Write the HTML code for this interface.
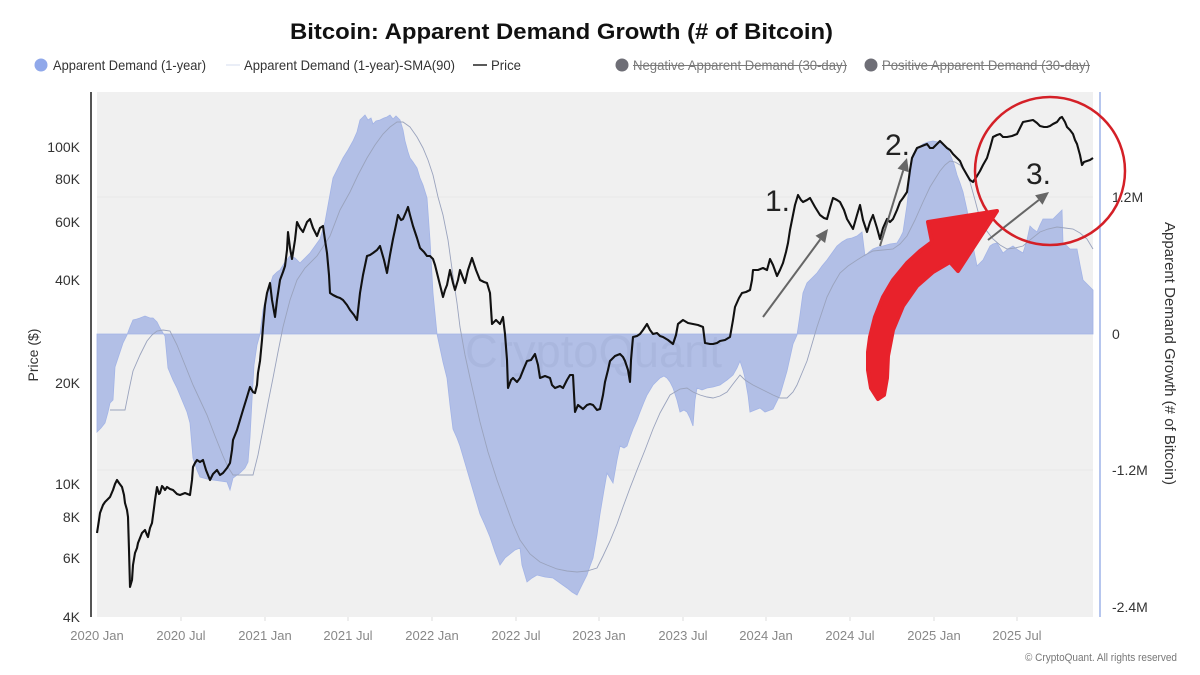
<!DOCTYPE html>
<html><head><meta charset="utf-8"><style>
html,body{margin:0;padding:0;background:#fff;}
svg{display:block;font-family:"Liberation Sans",Arial,sans-serif;}
</style></head><body>
<svg width="1200" height="675" viewBox="0 0 1200 675" xmlns="http://www.w3.org/2000/svg">
<rect width="1200" height="675" fill="#fff"/>
<!-- Title -->
<text x="290" y="39" font-size="22" font-weight="bold" fill="#111" textLength="543" lengthAdjust="spacingAndGlyphs">Bitcoin: Apparent Demand Growth (# of Bitcoin)</text>
<!-- Legend -->
<circle cx="41" cy="65" r="6.5" fill="#90a8ea"/>
<text x="53" y="70" font-size="14" fill="#333" textLength="153" lengthAdjust="spacingAndGlyphs">Apparent Demand (1-year)</text>
<line x1="226" y1="65" x2="240" y2="65" stroke="#d5dcef" stroke-width="1"/>
<text x="244" y="70" font-size="14" fill="#333" textLength="211" lengthAdjust="spacingAndGlyphs">Apparent Demand (1-year)-SMA(90)</text>
<line x1="473" y1="65" x2="487" y2="65" stroke="#222" stroke-width="1.5"/>
<text x="491" y="70" font-size="14" fill="#333" textLength="30" lengthAdjust="spacingAndGlyphs">Price</text>
<circle cx="622" cy="65" r="6.5" fill="#6e6e76"/>
<text x="633" y="70" font-size="14" fill="#7a7a7a" textLength="214" lengthAdjust="spacingAndGlyphs">Negative Apparent Demand (30-day)</text>
<line x1="633" y1="65.5" x2="847" y2="65.5" stroke="#7a7a7a" stroke-width="1"/>
<circle cx="871" cy="65" r="6.5" fill="#6e6e76"/>
<text x="882" y="70" font-size="14" fill="#7a7a7a" textLength="208" lengthAdjust="spacingAndGlyphs">Positive Apparent Demand (30-day)</text>
<line x1="882" y1="65.5" x2="1090" y2="65.5" stroke="#7a7a7a" stroke-width="1"/>

<!-- Plot background -->
<rect x="97" y="92" width="996" height="525" fill="#f0f0f0"/>
<line x1="97" y1="197" x2="1093" y2="197" stroke="#e9e9e9" stroke-width="1"/>
<line x1="97" y1="470" x2="1093" y2="470" stroke="#e9e9e9" stroke-width="1"/>

<!-- Demand fill -->
<polygon fill="#b2bfe6" stroke="#a3b4e6" stroke-width="0.8" points="97,334 97,432 101,428 105,423 108,412 110,403 113,400 115,367 119,355 123,343 127,335 130,327 133,320 137,319 140,318 145,316 150,318 153,318 157,322 160,328 163,333 165,336 168,368 173,380 177,388 182,400 187,412 190,423 193,458 197,470 200,477 207,479 213,480 220,481 227,482 230,490 233,478 237,475 240,473 245,468 248,462 250,437 252,400 254,365 257,345 260,334 263,310 267,293 270,285 273,276 277,272 280,270 285,262 290,256 295,258 300,263 305,258 310,253 315,246 320,239 325,222 329,200 333,178 338,168 343,158 348,150 353,141 357,132 360,120 363,117 365,115 368,120 371,118 373,124 376,121 380,120 384,118 387,117 390,115 393,119 396,116 400,120 403,130 405,141 408,152 410,158 413,162 417,168 420,178 423,185 427,198 430,240 433,293 437,334 440,348 443,362 447,378 450,405 453,429 457,438 460,446 465,463 470,480 475,497 480,514 485,525 490,537 495,552 500,565 505,558 510,554 515,550 520,548 522,565 527,582 532,578 537,575 545,577 553,578 560,583 567,588 572,592 577,595 582,585 587,575 590,566 593,558 597,535 600,514 604,490 607,473 610,478 613,483 617,460 620,446 624,448 627,446 630,437 633,429 637,420 640,412 644,402 647,395 650,390 653,385 657,381 660,378 664,376 667,378 670,382 673,388 677,400 680,412 684,410 687,412 690,418 693,426 695,400 697,388 702,390 707,388 713,387 720,385 727,380 733,375 737,368 740,361 743,370 745,378 748,395 750,412 755,410 760,408 765,412 773,409 780,395 787,371 793,344 797,335 800,315 803,293 807,283 812,278 817,273 822,266 827,260 832,253 837,246 842,242 847,239 852,238 857,236 862,232 865,256 869,252 873,249 878,247 883,246 890,244 897,243 900,238 903,232 907,205 910,178 913,154 918,148 923,144 928,142 933,141 938,142 943,144 947,148 950,154 954,164 957,175 960,183 963,192 967,210 970,226 973,246 977,266 980,263 983,260 987,252 990,246 993,244 997,243 1000,248 1003,253 1008,249 1013,246 1018,250 1023,253 1027,240 1030,226 1033,229 1037,232 1040,225 1043,219 1048,219 1053,219 1058,214 1062,210 1063,243 1067,246 1070,249 1073,249 1077,249 1080,265 1083,280 1088,285 1093,290 1093,334"/>

<!-- Watermark -->
<text x="465" y="367" font-size="46" fill="#7d8db5" opacity="0.14" textLength="257" lengthAdjust="spacingAndGlyphs">CryptoQuant</text>

<!-- SMA -->
<polyline fill="none" stroke="#9aa3bd" stroke-width="0.9" points="110,410 125,410 129,390 133,371 140,355 147,341 152,335 157,331 163,330 170,331 177,345 185,365 193,385 200,400 207,415 215,436 223,456 228,467 233,475 245,475 253,475 258,455 263,429 268,403 273,378 278,352 283,327 290,300 297,280 305,268 317,256 330,236 340,210 350,192 358,175 367,158 375,145 383,134 390,127 397,122 403,122 410,127 417,137 423,148 428,160 433,175 438,197 443,215 448,240 453,276 457,303 460,327 465,355 470,378 475,400 480,422 488,452 497,480 505,502 513,524 520,540 530,554 540,562 547,565 557,569 567,571 577,572 587,571 597,568 603,556 610,541 617,524 623,507 630,488 637,470 645,450 653,429 660,413 670,395 680,389 687,388 693,392 700,395 707,397 713,398 720,396 727,392 733,384 740,375 745,380 753,385 763,390 773,395 780,398 787,398 793,392 797,385 802,373 807,361 812,344 817,327 822,312 827,297 833,285 840,273 848,266 857,260 865,255 873,251 883,250 893,249 900,244 907,236 915,220 923,202 930,187 940,171 945,165 950,161 955,162 960,165 965,172 970,182 975,200 980,219 986,230 993,239 1000,245 1007,249 1015,248 1023,246 1030,240 1040,232 1048,229 1057,227 1065,228 1073,229 1080,233 1087,239 1093,249"/>

<!-- Price -->
<polyline fill="none" stroke="#111" stroke-width="2.1" stroke-linejoin="round" points="97,533 99,520 100,513 103,505 105,502 108,499 110,497 113,490 115,484 117,480 119,483 122,487 124,495 125,503 127,510 128,517 129,550 130,587 132,580 133,565 135,553 137,548 138,543 140,538 142,533 145,530 147,535 148,537 150,528 152,523 154,508 155,500 157,487 159,494 160,493 162,486 163,487 165,490 167,487 170,489 173,490 177,494 180,495 185,493 190,495 192,480 193,467 195,463 197,460 200,462 203,460 206,470 210,480 213,474 217,470 220,475 223,473 227,468 230,463 232,450 233,440 237,430 240,420 243,410 247,397 250,387 253,392 255,393 257,385 258,373 260,361 262,340 263,327 265,305 267,293 270,283 272,300 275,317 277,300 280,280 283,272 285,266 287,250 288,232 290,248 292,259 295,240 297,222 300,228 303,232 307,222 310,219 313,228 317,236 320,228 323,226 325,240 327,253 329,275 330,293 333,295 337,297 340,298 343,300 347,305 350,310 354,315 357,320 360,293 363,275 367,256 370,255 373,253 377,250 380,246 384,260 387,273 390,255 393,239 396,225 398,215 401,220 403,219 406,212 408,207 410,215 413,226 417,238 420,248 424,252 427,256 430,256 433,259 435,265 437,273 440,285 443,297 445,290 447,285 450,270 453,283 455,290 458,280 460,270 463,278 465,283 468,270 472,258 476,270 480,280 484,282 487,283 490,293 492,324 496,320 500,324 503,317 505,334 507,360 508,388 511,380 513,378 517,382 520,378 524,368 527,361 531,360 535,354 538,365 540,378 545,376 550,378 552,385 555,388 560,386 563,388 567,380 570,375 573,375 575,412 578,405 583,409 587,405 590,404 593,405 597,410 600,409 603,395 605,382 608,370 610,361 615,356 620,354 623,357 625,361 628,370 630,382 631,360 633,337 637,336 640,334 643,330 647,324 650,330 653,334 657,333 660,336 663,337 668,340 673,344 676,335 678,324 683,320 688,323 693,324 698,325 703,327 705,343 710,344 713,344 717,343 720,341 725,340 730,337 733,320 735,307 739,298 742,293 746,292 750,290 752,280 753,270 758,270 763,268 767,270 770,259 773,265 777,276 780,270 783,263 786,252 788,243 790,230 793,215 795,205 798,195 801,200 803,202 807,200 810,198 815,207 820,215 824,218 827,219 830,208 833,198 837,200 840,202 844,210 847,219 850,224 853,229 857,215 860,205 863,220 867,232 870,222 873,215 877,228 880,239 883,228 887,219 890,222 893,219 897,210 900,202 903,198 907,192 910,170 912,158 915,152 917,148 922,146 927,144 930,148 933,148 937,144 940,141 944,145 947,148 950,150 953,154 957,158 960,161 963,168 967,175 970,180 973,182 977,176 980,171 983,165 987,158 990,148 993,137 997,135 1000,134 1003,137 1007,137 1012,136 1017,134 1020,128 1023,122 1028,121 1033,120 1037,123 1040,126 1044,127 1047,127 1050,126 1053,124 1057,122 1060,118 1062,117 1065,122 1067,127 1070,130 1073,134 1075,140 1077,144 1080,155 1082,165 1084,162 1087,161 1090,160 1093,158"/>

<!-- Axes -->
<line x1="91" y1="92" x2="91" y2="617" stroke="#555" stroke-width="2"/>
<line x1="1100" y1="92" x2="1100" y2="617" stroke="#9db4e8" stroke-width="1.5"/>
<g stroke="#dcdcdc" stroke-width="1">
<line x1="181" y1="617" x2="181" y2="621"/><line x1="265" y1="617" x2="265" y2="621"/><line x1="348" y1="617" x2="348" y2="621"/><line x1="432" y1="617" x2="432" y2="621"/><line x1="516" y1="617" x2="516" y2="621"/><line x1="599" y1="617" x2="599" y2="621"/><line x1="683" y1="617" x2="683" y2="621"/><line x1="766" y1="617" x2="766" y2="621"/><line x1="850" y1="617" x2="850" y2="621"/><line x1="934" y1="617" x2="934" y2="621"/><line x1="1017" y1="617" x2="1017" y2="621"/>
</g>

<!-- Left axis labels -->
<g font-size="14" fill="#333" text-anchor="end">
<text x="80" y="152">100K</text>
<text x="80" y="184">80K</text>
<text x="80" y="227">60K</text>
<text x="80" y="285">40K</text>
<text x="80" y="388">20K</text>
<text x="80" y="489">10K</text>
<text x="80" y="522">8K</text>
<text x="80" y="563">6K</text>
<text x="80" y="622">4K</text>
</g>
<text transform="translate(38,355) rotate(-90)" font-size="14" fill="#333" text-anchor="middle">Price ($)</text>

<!-- Right axis labels -->
<g font-size="14" fill="#333">
<text x="1112" y="202">1.2M</text>
<text x="1112" y="339">0</text>
<text x="1112" y="475">-1.2M</text>
<text x="1112" y="612">-2.4M</text>
</g>
<text transform="translate(1165,222) rotate(90)" font-size="14.5" fill="#333" textLength="263" lengthAdjust="spacingAndGlyphs">Apparent Demand Growth (# of Bitcoin)</text>

<!-- Bottom labels -->
<g font-size="13" fill="#888" text-anchor="middle">
<text x="97" y="640">2020 Jan</text>
<text x="181" y="640">2020 Jul</text>
<text x="265" y="640">2021 Jan</text>
<text x="348" y="640">2021 Jul</text>
<text x="432" y="640">2022 Jan</text>
<text x="516" y="640">2022 Jul</text>
<text x="599" y="640">2023 Jan</text>
<text x="683" y="640">2023 Jul</text>
<text x="766" y="640">2024 Jan</text>
<text x="850" y="640">2024 Jul</text>
<text x="934" y="640">2025 Jan</text>
<text x="1017" y="640">2025 Jul</text>
</g>
<text x="1025" y="661" font-size="11" fill="#777" textLength="152" lengthAdjust="spacingAndGlyphs">© CryptoQuant. All rights reserved</text>

<!-- Annotations -->
<g stroke="#666" stroke-width="2" fill="#666">
<line x1="763" y1="317" x2="820.3" y2="239.4"/>
<polygon stroke="none" points="828,229 825.1,243 815.5,235.8"/>
<line x1="880" y1="246" x2="903.2" y2="170.4"/>
<polygon stroke="none" points="907,158 908.9,172.2 897.5,168.6"/>
<line x1="988" y1="240" x2="1038.8" y2="200"/>
<polygon stroke="none" points="1049,192 1042.5,204.7 1035.1,195.3"/>
</g>
<g font-size="30" fill="#222">
<text x="765" y="211">1.</text>
<text x="885" y="155">2.</text>
<text x="1026" y="184">3.</text>
</g>
<ellipse cx="1050" cy="171" rx="75" ry="74" fill="none" stroke="#d42027" stroke-width="2.5"/>
<path d="M878,399 L871,388 L868,370 L868,352 L870,337 L875,317 L883,297 L893,280 L907,263 L920,251 L932,242 L928,222 L997,211 L958,271 L950,262 L933,272 L917,286 L903,306 L893,330 L888,356 L887,378 L884,395 Z" fill="#e8222b" stroke="#e8222b" stroke-width="4" stroke-linejoin="round"/>
</svg>
</body></html>
